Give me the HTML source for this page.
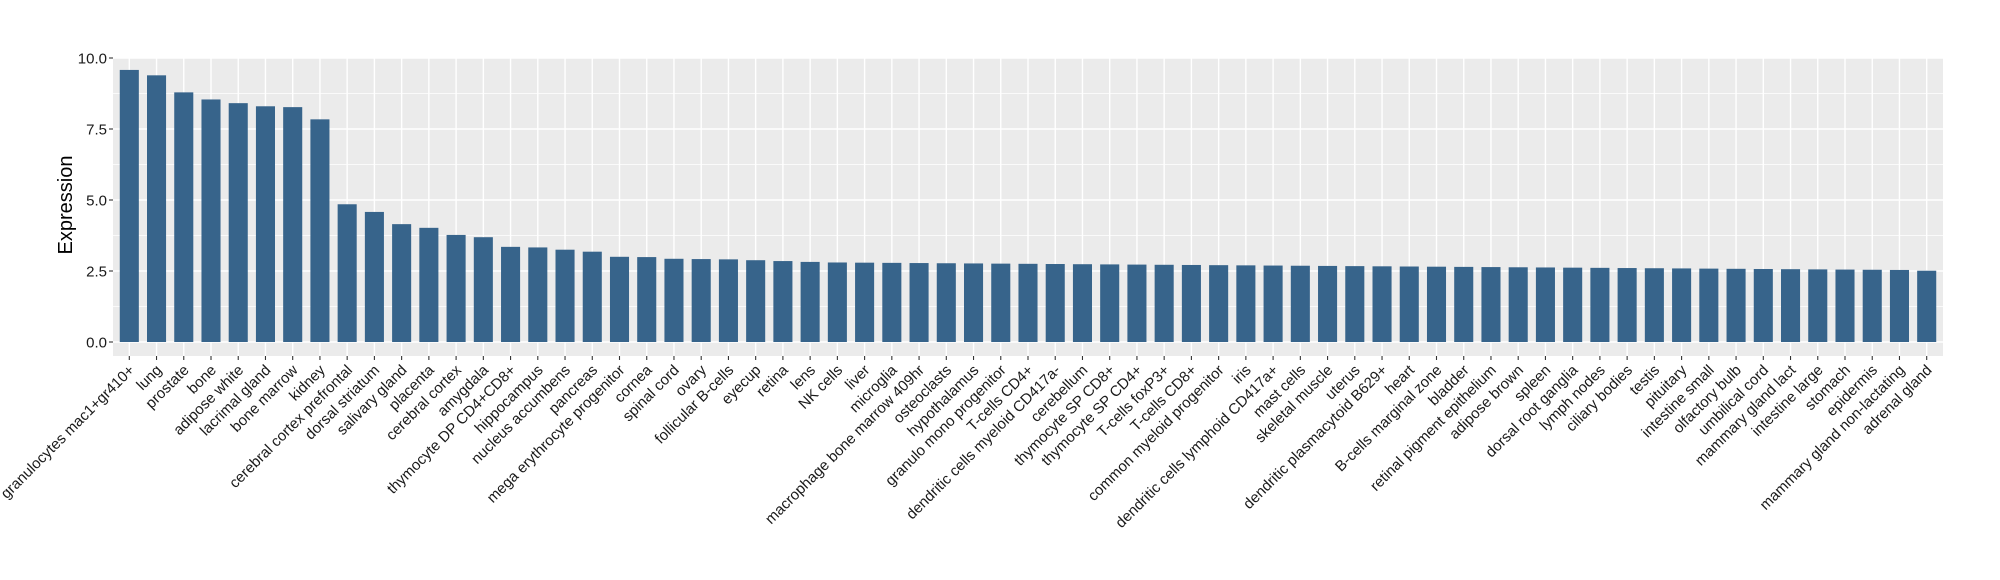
<!DOCTYPE html>
<html><head><meta charset="utf-8"><style>
html,body{margin:0;padding:0;background:#fff;}
svg{display:block;font-family:"Liberation Sans",sans-serif;}
</style></head><body>
<svg id="c" width="2000" height="580" viewBox="0 0 2000 580" xmlns="http://www.w3.org/2000/svg"></svg>
<script>
const labels=["granulocytes mac1+gr410+","lung","prostate","bone","adipose white","lacrimal gland","bone marrow","kidney","cerebral cortex prefrontal","dorsal striatum","salivary gland","placenta","cerebral cortex","amygdala","thymocyte DP CD4+CD8+","hippocampus","nucleus accumbens","pancreas","mega erythrocyte progenitor","cornea","spinal cord","ovary","follicular B-cells","eyecup","retina","lens","NK cells","liver","microglia","macrophage bone marrow 409hr","osteoclasts","hypothalamus","granulo mono progenitor","T-cells CD4+","dendritic cells myeloid CD417a-","cerebellum","thymocyte SP CD8+","thymocyte SP CD4+","T-cells foxP3+","T-cells CD8+","common myeloid progenitor","iris","dendritic cells lymphoid CD417a+","mast cells","skeletal muscle","uterus","dendritic plasmacytoid B629+","heart","B-cells marginal zone","bladder","retinal pigment epithelium","adipose brown","spleen","dorsal root ganglia","lymph nodes","ciliary bodies","testis","pituitary","intestine small","olfactory bulb","umbilical cord","mammary gland  lact","intestine large","stomach","epidermis","mammary gland non-lactating","adrenal gland"];
let vals=[9.58,9.39,8.79,8.54,8.41,8.30,8.27,7.84,4.85,4.58,4.15,4.02,3.77,3.69,3.35,3.33,3.25,3.18,3.0,2.99,2.93,2.92,2.91,2.88,2.85,2.82];
const n=labels.length;
const rest=n-vals.length;
for(let i=0;i<rest;i++){vals.push(2.80-(2.80-2.53)*i/(rest-1));}
vals[n-1]=2.51;
const L=113,R=1943,T=58,B=356,y0=342,k=28.4;
const x0=129.3,dx=(1926.7-129.3)/66,bw=dx*0.7;
const Y=v=>y0-v*k;
let s=`<rect x="${L}" y="${T}" width="${R-L}" height="${B-T}" fill="#ebebeb"/>`;
for(let v=1.25;v<10;v+=2.5) s+=`<line x1="${L}" x2="${R}" y1="${Y(v)}" y2="${Y(v)}" stroke="#fff" stroke-width="0.7"/>`;
for(let v=0;v<=10;v+=2.5) s+=`<line x1="${L}" x2="${R}" y1="${Y(v)}" y2="${Y(v)}" stroke="#fff" stroke-width="1.4"/>`;
for(let i=0;i<n;i++){const cx=x0+i*dx;s+=`<line x1="${cx}" x2="${cx}" y1="${T}" y2="${B}" stroke="#fff" stroke-width="1.4"/>`;}
for(let i=0;i<n;i++){const cx=x0+i*dx;s+=`<rect x="${cx-bw/2}" y="${Y(vals[i])}" width="${bw}" height="${vals[i]*k}" fill="#37648b"/>`;}
for(let v=0;v<=10;v+=2.5){const y=Y(v);s+=`<line x1="${L-4}" x2="${L}" y1="${y}" y2="${y}" stroke="#333" stroke-width="1.1"/><text x="${L-6}" y="${y+5.5}" font-size="15" text-anchor="end" fill="#1a1a1a">${v.toFixed(1)}</text>`;}
for(let i=0;i<n;i++){const cx=x0+i*dx;s+=`<line x1="${cx}" x2="${cx}" y1="${B}" y2="${B+4}" stroke="#333" stroke-width="1.1"/><text transform="translate(${cx+6},${371}) rotate(-45)" font-size="15" text-anchor="end" fill="#1a1a1a">${labels[i].replace(/&/g,'&amp;').replace(/</g,'&lt;')}</text>`;}
s+=`<text transform="translate(72,205) rotate(-90)" font-size="20" text-anchor="middle" fill="#000">Expression</text>`;
document.getElementById('c').innerHTML=s;
</script>
</body></html>
